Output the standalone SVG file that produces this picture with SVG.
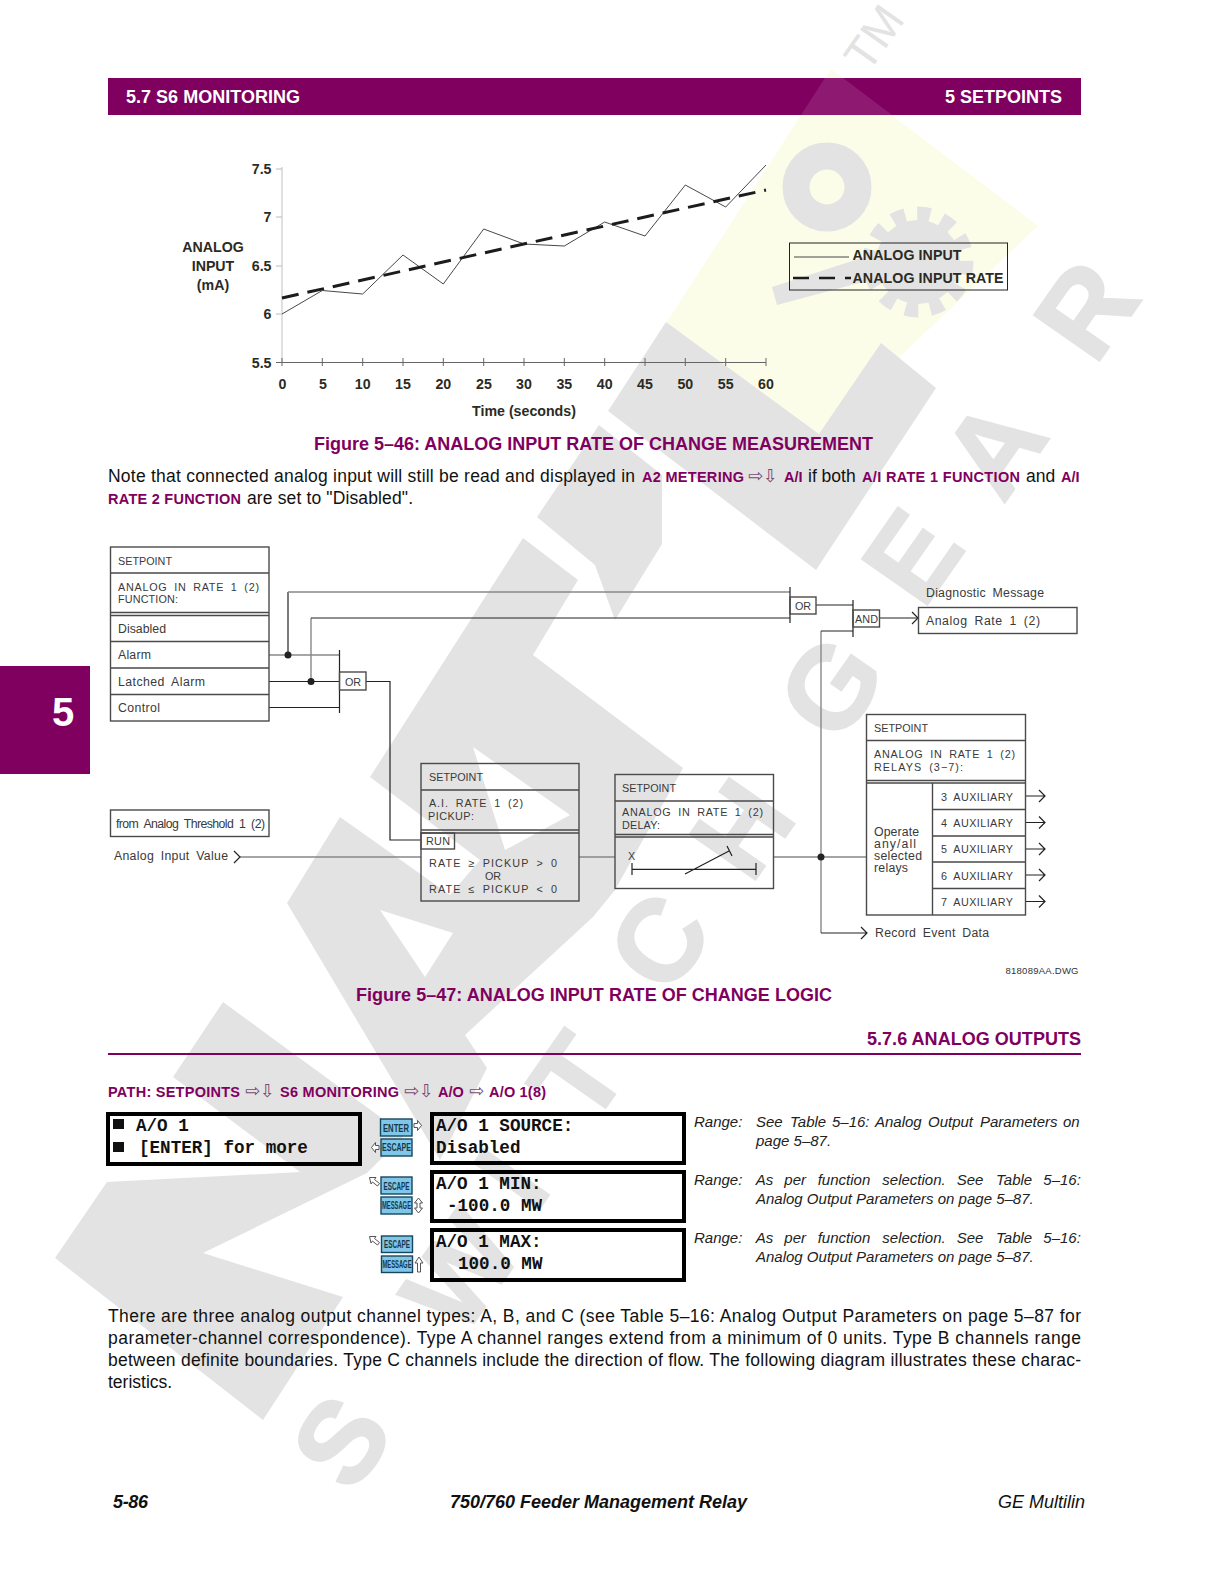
<svg xmlns="http://www.w3.org/2000/svg" width="1224" height="1584" viewBox="0 0 1224 1584">
<style>
text{font-family:"Liberation Sans",Arial,sans-serif;white-space:pre}
.wm{fill:#e3e3e3;stroke:none}
.wt{fill:#e3e3e3;stroke:#e3e3e3;stroke-width:2;font-weight:700;font-size:116px}
.ws{fill:none;stroke:#e3e3e3}
.p{fill:#800060;font-weight:700}
.pb{font-size:14.5px}
.a{font-family:"DejaVu Sans",sans-serif;fill:#7a4a70;font-size:18px;font-weight:400}
.body{fill:#111;font-size:17.5px}
.ax{font-size:14.2px;font-weight:700;fill:#2b2b24}
.c{font-size:12.3px;fill:#3a3a3a;word-spacing:3px}
.u{font-size:10.8px;fill:#3a3a3a;word-spacing:3px}
.b{fill:none;stroke:#4a4a4a;stroke-width:1.4}
.k{fill:none;stroke:#222;stroke-width:1.2}
.g{fill:none;stroke:#888;stroke-width:1.4}
.lcd{fill:none;stroke:#000;stroke-width:4}
.m{font-family:"Liberation Mono",monospace;font-weight:700;font-size:17.6px;fill:#111}
.btn{fill:#7fc6e8;stroke:#17465c;stroke-width:1.4}
.bt{font-family:"Liberation Sans Narrow","Liberation Sans",sans-serif;font-weight:700;font-size:11px;fill:#17384a;text-anchor:middle}
.ic{fill:#fff;stroke:#555;stroke-width:1}
.r{font-style:italic;font-size:15px;fill:#222}
.f{font-size:18px;font-style:italic;fill:#111}
</style>
<rect width="1224" height="1584" fill="#fff"/>

<g id="watermark">
<polygon points="831,69 1038,226 818,434 666,323" fill="#fbfde9"/>
<polygon class="wm" points="666,322 819,434 881,343 936,388 816,570 608,411"/>
<polygon class="wm" points="537,517 599,425 662,475 662,544 615,620 595,565"/>
<path class="wm" fill-rule="evenodd" d="M523,538 L578,580 533,655 683,768 615,890 593,917 465,1035 487,1068 440,1160 287,903 340,817 450,895 480,860 370,777 Z M473,747 L570,815 505,850 Z M380,910 L453,933 425,977 Z"/>
<polygon class="wm" points="223,1002 173,1077 300,1172 107,1182 55,1258 263,1420 343,1297 203,1253 367,1173 405,1135"/>
<circle class="ws" cx="827" cy="187" r="31" stroke-width="27"/>
<circle class="wm" cx="918" cy="262" r="42"/>
<circle class="ws" cx="918" cy="262" r="48" stroke-width="15" stroke-dasharray="13 12"/>
<polygon class="wm" points="772,287 777,305 900,272 892,248"/>
<text class="wt" transform="translate(352,1496) rotate(-55)">S</text>
<text class="wt" transform="translate(462,1340) rotate(-55)">W</text>
<text class="wt" transform="translate(535,1215) rotate(-55)">I</text>
<text class="wt" transform="translate(590,1130) rotate(-55)">T</text>
<text class="wt" transform="translate(668,999) rotate(-55)">C</text>
<text class="wt" transform="translate(751,886) rotate(-55)">H</text>
<text class="wt" transform="translate(838,747) rotate(-55)">G</text>
<text class="wt" transform="translate(923,611) rotate(-55)">E</text>
<text class="wt" transform="translate(1003,505) rotate(-55)">A</text>
<text class="wt" transform="translate(1095,367) rotate(-55)">R</text>
<text transform="translate(868,74) rotate(-55)" font-size="46" fill="#e3e3e3">TM</text>
</g>

<g id="page-header">
<rect x="108" y="78" width="973" height="37" fill="#800060"/>
<polygon points="825,78 843,78 892,115 801,115" fill="#fff" opacity=".1"/>
<text x="126" y="103" font-size="18" font-weight="700" fill="#fff" textLength="174">5.7 S6 MONITORING</text>
<text x="1062" y="103" font-size="18" font-weight="700" fill="#fff" text-anchor="end">5 SETPOINTS</text>
</g>
<g id="side-tab">
<rect x="0" y="666" width="90" height="108" fill="#800060"/>
<text x="63" y="726" font-size="40" font-weight="700" fill="#fff" text-anchor="middle">5</text>
</g>

<g id="chart">
<path d="M282,167V362.500" stroke="#ccc" stroke-width="1.2" fill="none"/>
<path d="M276,169h6M276,217h6M276,266h6M276,314h6" stroke="#bbb" fill="none"/>
<path d="M276,362.500H766M322.300,358v8M362.700,358v8M403,358v8M443.300,358v8M483.700,358v8M524,358v8M564.300,358v8M604.700,358v8M645,358v8M685.300,358v8M725.700,358v8M766,358v8M282,358v8" stroke="#666" fill="none"/>
<polyline points="282,314 322.3,290.5 362.7,294 403,255 443.3,284 483.7,229 524,244 564.3,246 604.7,222 645,236 685.3,185 725.7,207 766,165" fill="none" stroke="#333" stroke-width=".9"/>
<line x1="282" y1="298" x2="766" y2="190" stroke="#1c1c1c" stroke-width="3" stroke-dasharray="17 9"/>
<g class="ax" text-anchor="end">
<text x="271.500" y="174">7.5</text><text x="271.500" y="222">7</text><text x="271.500" y="271">6.5</text><text x="271.500" y="319">6</text><text x="271.500" y="368">5.5</text>
</g>
<g class="ax" text-anchor="middle">
<text x="282.500" y="389">0</text><text x="323" y="389">5</text><text x="362.7" y="389">10</text><text x="403" y="389">15</text><text x="443.3" y="389">20</text><text x="484" y="389">25</text><text x="524" y="389">30</text><text x="564.3" y="389">35</text><text x="604.7" y="389">40</text><text x="645" y="389">45</text><text x="685.3" y="389">50</text><text x="725.7" y="389">55</text><text x="766" y="389">60</text>
<text x="524" y="416">Time (seconds)</text>
<text x="213" y="252">ANALOG</text><text x="213" y="271">INPUT</text><text x="213" y="290">(mA)</text>
</g>
<g id="legend">
<rect x="789.5" y="243" width="218" height="47" fill="none" stroke="#222" stroke-width="1"/>
<line x1="794" y1="257" x2="849" y2="257" stroke="#333" stroke-width=".9"/>
<line x1="793" y1="278" x2="851" y2="278" stroke="#1c1c1c" stroke-width="2.5" stroke-dasharray="16 10"/>
<text class="ax" x="852.500" y="260" textLength="109">ANALOG INPUT</text>
<text class="ax" x="852.500" y="283" textLength="151">ANALOG INPUT RATE</text>
</g>
</g>

<text class="p" x="314" y="450" font-size="18" textLength="559">Figure 5–46: ANALOG INPUT RATE OF CHANGE MEASUREMENT</text>

<g id="note">
<text class="body" x="108" y="482" textLength="527">Note that connected analog input will still be read and displayed in</text>
<text class="p pb" x="642" y="482" textLength="102">A2 METERING</text>
<text class="a" x="748" y="482">⇨</text><text class="a" x="763" y="482">⇩</text>
<text class="p pb" x="784" y="482">A/I</text>
<text class="body" x="808" y="482">if both</text>
<text class="p pb" x="862" y="482" textLength="158">A/I RATE 1 FUNCTION</text>
<text class="body" x="1026" y="482">and</text>
<text class="p pb" x="1061" y="482">A/I</text>
<text class="p pb" x="108" y="504" textLength="133">RATE 2 FUNCTION</text>
<text class="body" x="247" y="504" textLength="166">are set to "Disabled".</text>
</g>

<g id="connectors">
<path class="g" d="M269,655H339.5"/>
<path class="k" d="M269,681.5H339.5M269,707.5H339.5M339.5,650V713"/>
<path class="k" d="M288,655V592"/><path class="g" d="M288,592H790"/>
<path class="g" d="M311,681.5V618"/><path class="k" d="M311,618H790"/>
<path class="k" d="M366,681.5H390V840H421"/>
<path class="g" d="M240,857H421M579,857H615M773.5,857H867"/>
<path class="k" d="M790,587V623M816,605H853M853,600V637M879.5,618H917"/>
<path class="k" d="M912,612l6,6l-6,6"/>
<path class="g" d="M821,631V933"/><path class="k" d="M821,631H853M821,933H867M861,927l6,6l-6,6"/>
<path class="k" d="M234,851l6,6l-6,6"/>
<g class="k">
<path d="M1025.5,796H1045M1039,790l6,6l-6,6"/>
<path d="M1025.5,822.5H1045M1039,816.5l6,6l-6,6"/>
<path d="M1025.5,849H1045M1039,843l6,6l-6,6"/>
<path d="M1025.5,875H1045M1039,869l6,6l-6,6"/>
<path d="M1025.5,901.5H1045M1039,895.5l6,6l-6,6"/>
</g>
<circle cx="288" cy="655" r="3.5" fill="#222"/><circle cx="311" cy="681.5" r="3.5" fill="#222"/><circle cx="821" cy="857" r="3.5" fill="#222"/>
</g>

<g id="node-function">
<rect class="b" x="110.5" y="547" width="158.5" height="174"/>
<path class="b" d="M110.5,573H269M110.5,612.5H269M110.5,615.5H269M110.5,641.5H269M110.5,668H269M110.5,694.5H269"/>
<text class="u" x="118" y="565" textLength="54">SETPOINT</text>
<text class="u" x="118" y="591" textLength="141">ANALOG IN RATE 1 (2)</text>
<text class="u" x="118" y="603" textLength="60">FUNCTION:</text>
<text class="c" x="118" y="633" textLength="48">Disabled</text>
<text class="c" x="118" y="659" textLength="33">Alarm</text>
<text class="c" x="118" y="686" textLength="87">Latched Alarm</text>
<text class="c" x="118" y="712" textLength="42">Control</text>
</g>
<g id="node-or1"><rect class="b" x="339.5" y="672" width="26.5" height="18" fill="#fff"/><text class="u" x="345" y="686" textLength="16">OR</text></g>
<g id="node-or2"><rect class="b" x="790" y="597" width="26" height="17"/><text class="u" x="795" y="610" textLength="16">OR</text></g>
<g id="node-and"><rect class="b" x="853" y="610" width="26.5" height="17"/><text class="u" x="855" y="623" textLength="23">AND</text></g>
<g id="node-diag">
<text class="c" x="926" y="597" textLength="118">Diagnostic Message</text>
<rect class="b" x="918.5" y="607.5" width="158.5" height="26"/>
<text class="c" x="926" y="625" textLength="114">Analog Rate 1 (2)</text>
</g>
<g id="node-threshold">
<rect class="b" x="110.5" y="810" width="158.5" height="26.5"/>
<text class="c" x="116" y="828" textLength="149">from Analog Threshold 1 (2)</text>
<text class="c" x="114" y="860" textLength="114">Analog Input Value</text>
</g>
<g id="node-pickup">
<rect class="b" x="421" y="763.5" width="158" height="137.5"/>
<path class="b" d="M421,790H579M421,830H579M421,833H579"/>
<rect class="b" x="421" y="833" width="33.5" height="16"/>
<text class="u" x="429" y="781" textLength="54">SETPOINT</text>
<text class="u" x="429" y="807" textLength="94">A.I. RATE 1 (2)</text>
<text class="u" x="428" y="820" textLength="46">PICKUP:</text>
<text class="u" x="426" y="845" textLength="24">RUN</text>
<text class="u" x="429" y="867" textLength="128">RATE ≥ PICKUP &gt; 0</text>
<text class="u" x="485" y="880" textLength="16">OR</text>
<text class="u" x="429" y="893" textLength="128">RATE ≤ PICKUP &lt; 0</text>
</g>
<g id="node-delay">
<rect class="b" x="615" y="774.5" width="158.5" height="114"/>
<path class="b" d="M615,801H773.5M615,834.5H773.5M615,837H773.5"/>
<text class="u" x="622" y="792" textLength="54">SETPOINT</text>
<text class="u" x="622" y="816" textLength="141">ANALOG IN RATE 1 (2)</text>
<text class="u" x="622" y="829" textLength="38">DELAY:</text>
<text class="u" x="628" y="860">X</text>
<path class="k" d="M632,863V875M632,869.3H756M756,863V875M685,874L729,851M727,846L732,856"/>
</g>
<g id="node-relays">
<rect class="b" x="866.5" y="714.5" width="159" height="200.5"/>
<path class="b" d="M866.5,740.5H1025.5M866.5,780.5H1025.5M866.5,783H1025.5M932.5,783V915M932.5,809.5H1025.5M932.5,836H1025.5M932.5,862H1025.5M932.5,888.5H1025.5"/>
<text class="u" x="874" y="732" textLength="54">SETPOINT</text>
<text class="u" x="874" y="758" textLength="141">ANALOG IN RATE 1 (2)</text>
<text class="u" x="874" y="770.5" textLength="89">RELAYS (3−7):</text>
<text class="c" x="874" y="836" textLength="45">Operate</text>
<text class="c" x="874" y="848" textLength="42">any/all</text>
<text class="c" x="874" y="860" textLength="48">selected</text>
<text class="c" x="874" y="872" textLength="34">relays</text>
<text class="u" x="941" y="800.5" textLength="72">3 AUXILIARY</text>
<text class="u" x="941" y="826.5" textLength="72">4 AUXILIARY</text>
<text class="u" x="941" y="853" textLength="72">5 AUXILIARY</text>
<text class="u" x="941" y="879.5" textLength="72">6 AUXILIARY</text>
<text class="u" x="941" y="906" textLength="72">7 AUXILIARY</text>
</g>
<text class="c" x="875" y="937" textLength="114">Record Event Data</text>
<text x="1005.5" y="974" font-size="9.5" fill="#333" textLength="73">818089AA.DWG</text>

<text class="p" x="356" y="1001" font-size="18" textLength="476">Figure 5–47: ANALOG INPUT RATE OF CHANGE LOGIC</text>
<text class="p" x="1081" y="1045" font-size="18" text-anchor="end" textLength="214">5.7.6 ANALOG OUTPUTS</text>
<rect x="108" y="1053" width="973" height="2" fill="#800060"/>

<g id="path-line">
<text class="p pb" x="108" y="1097" textLength="132">PATH: SETPOINTS</text>
<text class="a" x="245" y="1097">⇨</text><text class="a" x="260" y="1097">⇩</text>
<text class="p pb" x="280" y="1097" textLength="119">S6 MONITORING</text>
<text class="a" x="404" y="1097">⇨</text><text class="a" x="419" y="1097">⇩</text>
<text class="p pb" x="438" y="1097">A/O</text>
<text class="a" x="469" y="1097">⇨</text>
<text class="p pb" x="489" y="1097" textLength="57">A/O 1(8)</text>
</g>

<g id="node-lcd-main">
<rect class="lcd" x="108" y="1114" width="252" height="50"/>
<rect x="113" y="1119" width="11" height="10" fill="#111"/><rect x="113" y="1142" width="11" height="10" fill="#111"/>
<text class="m" x="136" y="1131">A/O 1</text><text class="m" x="139" y="1153">[ENTER] for more</text>
</g>
<g id="node-lcd-source">
<rect class="lcd" x="432" y="1114" width="252" height="49"/>
<text class="m" x="436" y="1131">A/O 1 SOURCE:</text><text class="m" x="436" y="1153">Disabled</text>
</g>
<g id="node-lcd-min">
<rect class="lcd" x="432" y="1172" width="252" height="49"/>
<text class="m" x="436" y="1189">A/O 1 MIN:</text><text class="m" x="447" y="1211">-100.0 MW</text>
</g>
<g id="node-lcd-max">
<rect class="lcd" x="432" y="1230" width="252" height="50"/>
<text class="m" x="436" y="1247">A/O 1 MAX:</text><text class="m" x="458" y="1269">100.0 MW</text>
</g>

<g id="keys">
<rect class="btn" x="380.5" y="1119" width="31.5" height="17"/><text class="bt" x="396" y="1132" textLength="26" lengthAdjust="spacingAndGlyphs">ENTER</text>
<rect class="btn" x="381" y="1139" width="31" height="17"/><text class="bt" x="396.5" y="1151" textLength="29" lengthAdjust="spacingAndGlyphs">ESCAPE</text>
<rect class="btn" x="381" y="1177" width="31" height="17"/><text class="bt" x="396.5" y="1190" textLength="26" lengthAdjust="spacingAndGlyphs">ESCAPE</text>
<rect class="btn" x="381" y="1197" width="31" height="17"/><text class="bt" x="396.5" y="1209" textLength="29" lengthAdjust="spacingAndGlyphs">MESSAGE</text>
<rect class="btn" x="381.5" y="1236" width="31" height="16.5" /><text class="bt" x="397" y="1248" textLength="26" lengthAdjust="spacingAndGlyphs">ESCAPE</text>
<rect class="btn" x="381.5" y="1256" width="31" height="16.5"/><text class="bt" x="397" y="1268" textLength="29" lengthAdjust="spacingAndGlyphs">MESSAGE</text>
<path class="ic" d="M414,1123.5h3.5v-3l4,5l-4,5v-3h-3.5z"/>
<path class="ic" d="M379,1145.5h-3.5v-3l-4,5l4,5v-3h3.5z"/>
<path class="ic" d="M369.5,1177.5h6.5l-1.5,2l5,4l-2,2.500l-5,-4l-1.500,2z"/>
<path class="ic" d="M369.500,1236.500h6.500l-1.500,2l5,4l-2,2.500l-5,-4l-1.500,2z"/>
<path class="ic" d="M418.500,1198l4,5h-2.500v5h2.500l-4,5l-4,-5h2.500v-5h-2.500z"/>
<path class="ic" d="M419,1257l4,6h-2.500v9h-3v-9h-2.500z"/>
</g>

<g id="ranges">
<text class="r" x="694" y="1127">Range:</text>
<text class="r" y="1127"><tspan x="756">See</tspan><tspan x="790">Table</tspan><tspan x="832">5–16:</tspan><tspan x="875">Analog</tspan><tspan x="928">Output</tspan><tspan x="980">Parameters</tspan><tspan x="1063">on</tspan></text>
<text class="r" x="756" y="1146">page 5–87.</text>
<text class="r" x="694" y="1185">Range:</text>
<text class="r" y="1185"><tspan x="755.700">As</tspan><tspan x="784.300">per</tspan><tspan x="817.700">function</tspan><tspan x="882.300">selection.</tspan><tspan x="956.700">See</tspan><tspan x="996">Table</tspan><tspan x="1043.300">5–16:</tspan></text>
<text class="r" x="756" y="1204">Analog Output Parameters on page 5–87.</text>
<text class="r" x="694" y="1243">Range:</text>
<text class="r" y="1243"><tspan x="755.700">As</tspan><tspan x="784.300">per</tspan><tspan x="817.700">function</tspan><tspan x="882.300">selection.</tspan><tspan x="956.700">See</tspan><tspan x="996">Table</tspan><tspan x="1043.300">5–16:</tspan></text>
<text class="r" x="756" y="1262">Analog Output Parameters on page 5–87.</text>
</g>

<g id="paragraph">
<text class="body" x="108" y="1322" textLength="973">There are three analog output channel types: A, B, and C (see Table 5–16: Analog Output Parameters on page 5–87 for</text>
<text class="body" x="108" y="1344" textLength="973">parameter-channel correspondence). Type A channel ranges extend from a minimum of 0 units. Type B channels range</text>
<text class="body" x="108" y="1366" textLength="973">between definite boundaries. Type C channels include the direction of flow. The following diagram illustrates these charac-</text>
<text class="body" x="108" y="1388">teristics.</text>
</g>

<g id="footer">
<text class="f" x="113" y="1508" font-weight="700" textLength="35">5-86</text>
<text class="f" x="450" y="1508" font-weight="700" textLength="297">750/760 Feeder Management Relay</text>
<text class="f" x="998" y="1508" textLength="87">GE Multilin</text>
</g>
</svg>
